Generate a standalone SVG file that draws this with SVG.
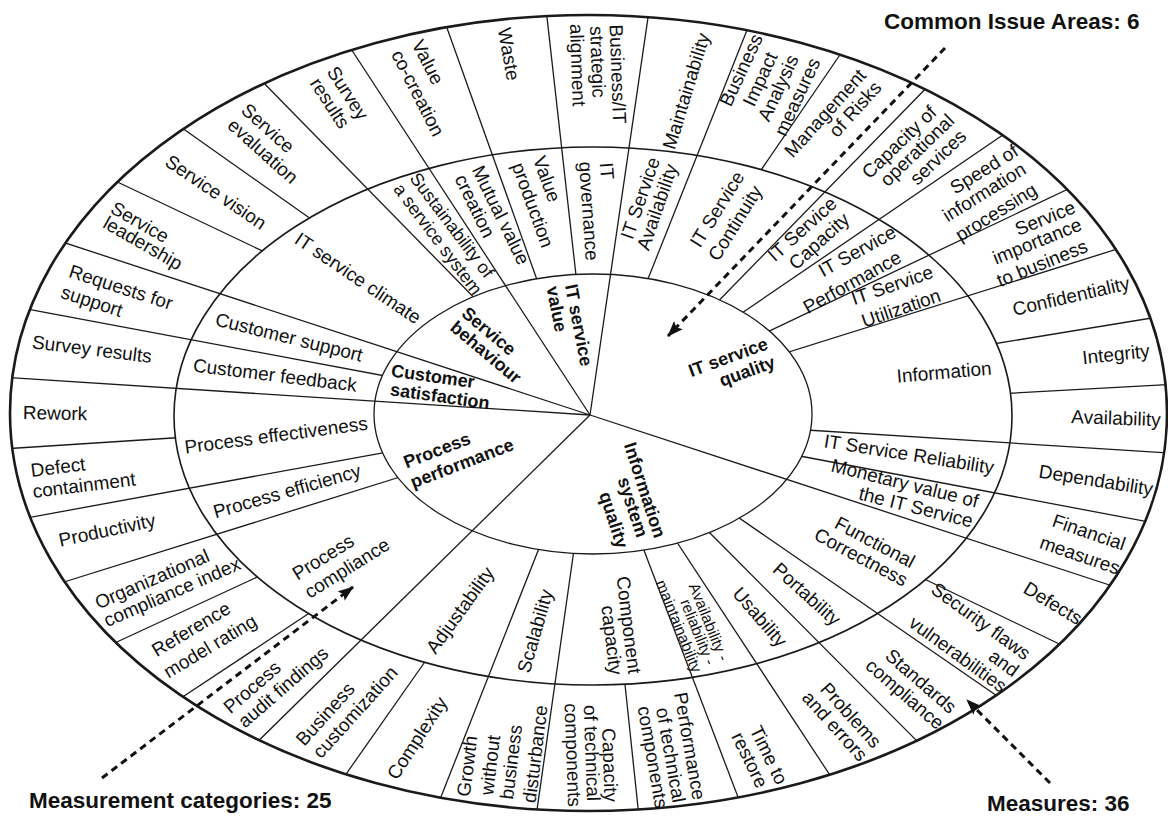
<svg xmlns="http://www.w3.org/2000/svg" width="1168" height="818" viewBox="0 0 1168 818">
<defs>
<style>
.t{font-family:"Liberation Sans",Arial,sans-serif;font-size:19px;fill:#111;text-anchor:middle}
.s{font-size:18px}
.xs{font-size:15.5px}
.b{font-family:"Liberation Sans",Arial,sans-serif;font-size:18px;font-weight:bold;fill:#111;text-anchor:middle}
.lab{font-family:"Liberation Sans",Arial,sans-serif;font-size:22.5px;font-weight:bold;fill:#111}
.sep{stroke:#1a1a1a;stroke-width:1.3;fill:none}
.ring{fill:none;stroke:#1a1a1a}
.dash{stroke:#111;stroke-width:3;stroke-dasharray:7 5;fill:none}
</style>
<clipPath id="cO"><path d="M10,413 a578.5,398 0 1,0 1157,0 a578.5,398 0 1,0 -1157,0 Z"/></clipPath>
<clipPath id="cIO"><path clip-rule="evenodd" d="M10,413 a578.5,398 0 1,0 1157,0 a578.5,398 0 1,0 -1157,0 Z M374,414 a219,140 0 1,0 438,0 a219,140 0 1,0 -438,0 Z"/></clipPath>
<clipPath id="cMO"><path clip-rule="evenodd" d="M10,413 a578.5,398 0 1,0 1157,0 a578.5,398 0 1,0 -1157,0 Z M174,416 a419,269 0 1,0 838,0 a419,269 0 1,0 -838,0 Z"/></clipPath>
<marker id="ah" viewBox="0 0 16 12" refX="15" refY="6" markerWidth="16" markerHeight="12" markerUnits="userSpaceOnUse" orient="auto"><path d="M0,0 L16,6 L0,12 L3,6 Z" fill="#111"/></marker>
</defs>
<rect width="1168" height="818" fill="#fff"/>

<g id="rings">
<ellipse class="ring" cx="588.5" cy="413" rx="578.5" ry="398" stroke-width="2.6"/>
<ellipse class="ring" cx="593" cy="416" rx="419" ry="269" stroke-width="1.6"/>
<ellipse class="ring" cx="593" cy="414" rx="219" ry="140" stroke-width="1.3"/>
</g>

<g id="separators">
<g clip-path="url(#cO)">
<line class="sep" x1="590" y1="415" x2="340" y2="32"/>
<line class="sep" x1="590" y1="415" x2="651" y2="-3"/>
<line class="sep" x1="590" y1="415" x2="1143" y2="596"/>
<line class="sep" x1="590" y1="415" x2="241" y2="758"/>
<line class="sep" x1="590" y1="415" x2="-16" y2="376"/>
<line class="sep" x1="590" y1="415" x2="44" y2="236"/>
</g>
<g clip-path="url(#cIO)">
<line class="sep" x1="494" y1="318" x2="255" y2="74"/>
<line class="sep" x1="546" y1="305" x2="442.5" y2="15.4"/>
<line class="sep" x1="579" y1="302" x2="545.5" y2="4"/>
<line class="sep" x1="638" y1="304" x2="752" y2="17.5"/>
<line class="sep" x1="699" y1="321" x2="937" y2="77"/>
<line class="sep" x1="717" y1="330" x2="1016" y2="126"/>
<line class="sep" x1="740" y1="345" x2="1085" y2="181"/>
<line class="sep" x1="757" y1="362" x2="1136.5" y2="243"/>
<line class="sep" x1="775" y1="428" x2="1185" y2="454"/>
<line class="sep" x1="768" y1="450" x2="1170" y2="526"/>
<line class="sep" x1="716" y1="502" x2="1016" y2="709"/>
<line class="sep" x1="691" y1="514" x2="933.5" y2="757.6"/>
<line class="sep" x1="665" y1="524" x2="841" y2="792"/>
<line class="sep" x1="635.5" y1="528" x2="745" y2="815.5"/>
<line class="sep" x1="576.5" y1="532" x2="536" y2="817"/>
<line class="sep" x1="547" y1="528" x2="435" y2="812"/>
<line class="sep" x1="433.5" y1="466.5" x2="48" y2="587"/>
<line class="sep" x1="417" y1="446.6" x2="15.5" y2="520"/>
<line class="sep" x1="414.7" y1="381.5" x2="15.6" y2="306.8"/>
</g>
<g clip-path="url(#cMO)">
<line class="sep" x1="271" y1="255" x2="109" y2="178"/>
<line class="sep" x1="318" y1="224" x2="175" y2="123"/>
<line class="sep" x1="757" y1="176" x2="846" y2="46"/>
<line class="sep" x1="987" y1="345" x2="1170" y2="315"/>
<line class="sep" x1="997" y1="394" x2="1180" y2="384"/>
<line class="sep" x1="916" y1="575" x2="1078" y2="653"/>
<line class="sep" x1="624" y1="675" x2="639" y2="817"/>
<line class="sep" x1="429" y1="656" x2="337" y2="787"/>
<line class="sep" x1="317" y1="608" x2="172" y2="704"/>
<line class="sep" x1="266" y1="573" x2="106" y2="647"/>
<line class="sep" x1="188" y1="437" x2="2" y2="449"/>
</g>
</g>

<g id="measures">
<g id="m1"><text class="t" dy=".35em" transform="translate(428,62) rotate(63)">Value</text><text class="t" dy=".35em" transform="translate(418,93) rotate(63)">co-creation</text></g>
<g id="m2"><text class="t" dy=".35em" transform="translate(509,54) rotate(80)">Waste</text></g>
<g id="m3"><text class="t" dy=".35em" transform="translate(618,74) rotate(88)">Business/IT</text><text class="t" dy=".35em" transform="translate(598,62) rotate(88)">strategic</text><text class="t" dy=".35em" transform="translate(578,65) rotate(88)">alignment</text></g>
<g id="m4"><text class="t" dy=".35em" transform="translate(686,91) rotate(-73)">Maintainability</text></g>
<g id="m5"><text class="t" dy=".35em" transform="translate(741,70) rotate(-65)">Business</text><text class="t" dy=".35em" transform="translate(760,79) rotate(-65)">Impact</text><text class="t" dy=".35em" transform="translate(778,88) rotate(-65)">Analysis</text><text class="t" dy=".35em" transform="translate(797,97) rotate(-65)">measures</text></g>
<g id="m6"><text class="t" dy=".35em" transform="translate(825,113) rotate(-48)">Management</text><text class="t" dy=".35em" transform="translate(855,109) rotate(-48)">of Risks</text></g>
<g id="m7"><text class="t" dy=".35em" transform="translate(899,142) rotate(-44)">Capacity of</text><text class="t" dy=".35em" transform="translate(917,150) rotate(-44)">operational</text><text class="t" dy=".35em" transform="translate(938,157) rotate(-44)">services</text></g>
<g id="m8"><text class="t" dy=".35em" transform="translate(984,169) rotate(-32)">Speed of</text><text class="t" dy=".35em" transform="translate(984,192) rotate(-32)">information</text><text class="t" dy=".35em" transform="translate(996,212) rotate(-32)">processing</text></g>
<g id="m9"><text class="t" dy=".35em" transform="translate(1045,218) rotate(-22)">Service</text><text class="t" dy=".35em" transform="translate(1037,241) rotate(-22)">importance</text><text class="t" dy=".35em" transform="translate(1042,263) rotate(-22)">to business</text></g>
<g id="m10"><text class="t" dy=".35em" transform="translate(1071,296) rotate(-13)">Confidentiality</text></g>
<g id="m11"><text class="t" dy=".35em" transform="translate(1116,354) rotate(-6)">Integrity</text></g>
<g id="m12"><text class="t" dy=".35em" transform="translate(1116,418) rotate(2)">Availability</text></g>
<g id="m13"><text class="t" dy=".35em" transform="translate(1096,480) rotate(9)">Dependability</text></g>
<g id="m14"><text class="t" dy=".35em" transform="translate(1089,532) rotate(19)">Financial</text><text class="t" dy=".35em" transform="translate(1080,555) rotate(19)">measures</text></g>
<g id="m15"><text class="t" dy=".35em" transform="translate(1053,603) rotate(31)">Defects</text></g>
<g id="m16"><text class="t" dy=".35em" transform="translate(981,621) rotate(36)">Security flaws</text><text class="t" dy=".35em" transform="translate(1004,663) rotate(36)">and</text><text class="t" dy=".35em" transform="translate(958,654) rotate(36)">vulnerabilities</text></g>
<g id="m17"><text class="t" dy=".35em" transform="translate(921,681) rotate(41)">Standards</text><text class="t" dy=".35em" transform="translate(905,694) rotate(41)">compliance</text></g>
<g id="m18"><text class="t" dy=".35em" transform="translate(851,715) rotate(48)">Problems</text><text class="t" dy=".35em" transform="translate(835,726) rotate(48)">and errors</text></g>
<g id="m19"><text class="t" dy=".35em" transform="translate(769,755) rotate(64)">Time to</text><text class="t" dy=".35em" transform="translate(750,760) rotate(64)">restore</text></g>
<g id="m20"><text class="t" dy=".35em" transform="translate(690,746) rotate(80)">Performance</text><text class="t" dy=".35em" transform="translate(671,755) rotate(80)">of technical</text><text class="t" dy=".35em" transform="translate(653,757) rotate(80)">components</text></g>
<g id="m21"><text class="t" dy=".35em" transform="translate(610,765) rotate(88)">Capacity</text><text class="t" dy=".35em" transform="translate(592,753) rotate(88)">of technical</text><text class="t" dy=".35em" transform="translate(573,755) rotate(88)">components</text></g>
<g id="m22"><text class="t" dy=".35em" transform="translate(467,766) rotate(-83)">Growth</text><text class="t" dy=".35em" transform="translate(490,765) rotate(-83)">without</text><text class="t" dy=".35em" transform="translate(511,762) rotate(-83)">business</text><text class="t" dy=".35em" transform="translate(535,754) rotate(-83)">disturbance</text></g>
<g id="m23"><text class="t" dy=".35em" transform="translate(417,738) rotate(-57)">Complexity</text></g>
<g id="m24"><text class="t" dy=".35em" transform="translate(325,714) rotate(-48)">Business</text><text class="t" dy=".35em" transform="translate(355,712) rotate(-48)">customization</text></g>
<g id="m25"><text class="t" dy=".35em" transform="translate(252,687) rotate(-41)">Process</text><text class="t" dy=".35em" transform="translate(283,687) rotate(-41)">audit findings</text></g>
<g id="m26"><text class="t" dy=".35em" transform="translate(191,629) rotate(-31)">Reference</text><text class="t" dy=".35em" transform="translate(210,646) rotate(-31)">model rating</text></g>
<g id="m27"><text class="t" dy=".35em" transform="translate(152,579) rotate(-23.5)">Organizational</text><text class="t" dy=".35em" transform="translate(172,592) rotate(-23.5)">compliance index</text></g>
<g id="m28"><text class="t" dy=".35em" transform="translate(107,530) rotate(-12)">Productivity</text></g>
<g id="m29"><text class="t" dy=".35em" transform="translate(58,467) rotate(-7)">Defect</text><text class="t" dy=".35em" transform="translate(84,485) rotate(-7)">containment</text></g>
<g id="m30"><text class="t" dy=".35em" transform="translate(55,413) rotate(1)">Rework</text></g>
<g id="m31"><text class="t" dy=".35em" transform="translate(92,349) rotate(7)">Survey results</text></g>
<g id="m32"><text class="t" dy=".35em" transform="translate(121,287) rotate(18)">Requests for</text><text class="t" dy=".35em" transform="translate(92,301) rotate(18)">support</text></g>
<g id="m33"><text class="t" dy=".35em" transform="translate(140,222) rotate(30)">Service</text><text class="t" dy=".35em" transform="translate(143,243) rotate(30)">leadership</text></g>
<g id="m34"><text class="t" dy=".35em" transform="translate(216,192) rotate(34)">Service vision</text></g>
<g id="m35"><text class="t" dy=".35em" transform="translate(268,128) rotate(42)">Service</text><text class="t" dy=".35em" transform="translate(263,151) rotate(42)">evaluation</text></g>
<g id="m36"><text class="t" dy=".35em" transform="translate(348,93) rotate(57)">Survey</text><text class="t" dy=".35em" transform="translate(330,103) rotate(57)">results</text></g>
</g>

<g id="categories">
<g id="c1"><text class="t" dy=".35em" transform="translate(358,278) rotate(34)">IT service climate</text></g>
<g id="c2"><text class="t s" dy=".35em" transform="translate(452,225) rotate(53)">Sustainability of</text><text class="t s" dy=".35em" transform="translate(438,239) rotate(53)">a service system</text></g>
<g id="c3"><text class="t" dy=".35em" transform="translate(501,215) rotate(64)">Mutual value</text><text class="t" dy=".35em" transform="translate(475,206) rotate(64)">creation</text></g>
<g id="c4"><text class="t" dy=".35em" transform="translate(547,179) rotate(70)">Value</text><text class="t" dy=".35em" transform="translate(533,205) rotate(70)">production</text></g>
<g id="c5"><text class="t" dy=".35em" transform="translate(607,171) rotate(86)">IT</text><text class="t" dy=".35em" transform="translate(589,211) rotate(86)">governance</text></g>
<g id="c6"><text class="t" dy=".35em" transform="translate(640,198) rotate(-71)">IT Service</text><text class="t" dy=".35em" transform="translate(657,207) rotate(-71)">Availability</text></g>
<g id="c7"><text class="t" dy=".35em" transform="translate(717,209) rotate(-58)">IT Service</text><text class="t" dy=".35em" transform="translate(735,223) rotate(-58)">Continuity</text></g>
<g id="c8"><text class="t" dy=".35em" transform="translate(802,229) rotate(-42)">IT Service</text><text class="t" dy=".35em" transform="translate(819,241) rotate(-42)">Capacity</text></g>
<g id="c9"><text class="t" dy=".35em" transform="translate(857,251) rotate(-29)">IT Service</text><text class="t" dy=".35em" transform="translate(852,282) rotate(-29)">Performance</text></g>
<g id="c10"><text class="t" dy=".35em" transform="translate(892,285) rotate(-19)">IT Service</text><text class="t" dy=".35em" transform="translate(901,308) rotate(-19)">Utilization</text></g>
<g id="c11"><text class="t" dy=".35em" transform="translate(944,372) rotate(-5)">Information</text></g>
<g id="c12"><text class="t" dy=".35em" transform="translate(909,454) rotate(9)">IT Service Reliability</text></g>
<g id="c13"><text class="t" dy=".35em" transform="translate(905,483) rotate(14)">Monetary value of</text><text class="t" dy=".35em" transform="translate(916,507) rotate(14)">the IT Service</text></g>
<g id="c14"><text class="t" dy=".35em" transform="translate(875,542) rotate(28)">Functional</text><text class="t" dy=".35em" transform="translate(861,557) rotate(28)">Correctness</text></g>
<g id="c15"><text class="t" dy=".35em" transform="translate(807,594) rotate(42)">Portability</text></g>
<g id="c16"><text class="t" dy=".35em" transform="translate(760,617) rotate(49)">Usability</text></g>
<g id="c17"><text class="t xs" dy=".35em" transform="translate(709,622) rotate(68)">Availability -</text><text class="t xs" dy=".35em" transform="translate(698,632) rotate(68)">reliability -</text><text class="t xs" dy=".35em" transform="translate(679,626) rotate(68)">maintainability</text></g>
<g id="c18"><text class="t" dy=".35em" transform="translate(629,625) rotate(83)">Component</text><text class="t" dy=".35em" transform="translate(612,640) rotate(83)">capacity</text></g>
<g id="c19"><text class="t" dy=".35em" transform="translate(535,631) rotate(-74)">Scalability</text></g>
<g id="c20"><text class="t" dy=".35em" transform="translate(460,610) rotate(-54)">Adjustability</text></g>
<g id="c21"><text class="t" dy=".35em" transform="translate(323,557) rotate(-32)">Process</text><text class="t" dy=".35em" transform="translate(347,568) rotate(-32)">compliance</text></g>
<g id="c22"><text class="t" dy=".35em" transform="translate(287,491) rotate(-16)">Process efficiency</text></g>
<g id="c23"><text class="t" dy=".35em" transform="translate(276,435) rotate(-7.5)">Process effectiveness</text></g>
<g id="c24"><text class="t" dy=".35em" transform="translate(275,375) rotate(7)">Customer feedback</text></g>
<g id="c25"><text class="t" dy=".35em" transform="translate(289,337) rotate(14)">Customer support</text></g>
</g>

<g id="areas">
<g id="a1"><text class="b" dy=".35em" transform="translate(489,331) rotate(40)">Service</text><text class="b" dy=".35em" transform="translate(486,352) rotate(40)">behaviour</text></g>
<g id="a2"><text class="b" dy=".35em" transform="translate(579,325) rotate(79)">IT service</text><text class="b" dy=".35em" transform="translate(557,309) rotate(79)">value</text></g>
<g id="a3"><text class="b" dy=".35em" transform="translate(728,357) rotate(-20)">IT service</text><text class="b" dy=".35em" transform="translate(747,371) rotate(-20)">quality</text></g>
<g id="a4"><text class="b" dy=".35em" transform="translate(645,490) rotate(72)">Information</text><text class="b" dy=".35em" transform="translate(633,507) rotate(72)">system</text><text class="b" dy=".35em" transform="translate(614,520) rotate(72)">quality</text></g>
<g id="a5"><text class="b" dy=".35em" transform="translate(437,450) rotate(-21)">Process</text><text class="b" dy=".35em" transform="translate(462,463) rotate(-21)">performance</text></g>
<g id="a6"><text class="b" dy=".35em" transform="translate(433,376) rotate(8)">Customer</text><text class="b" dy=".35em" transform="translate(440,396) rotate(8)">satisfaction</text></g>
</g>

<g id="callouts">
<path class="dash" d="M945,48 L668,336" marker-end="url(#ah)"/>
<path class="dash" d="M102,778 L353,587" marker-end="url(#ah)"/>
<path class="dash" d="M1050,783 L967,700" marker-end="url(#ah)"/>
<text class="lab" x="884" y="29">Common Issue Areas: 6</text>
<text class="lab" x="29" y="808">Measurement categories: 25</text>
<text class="lab" x="987" y="811">Measures: 36</text>
</g>
</svg>
